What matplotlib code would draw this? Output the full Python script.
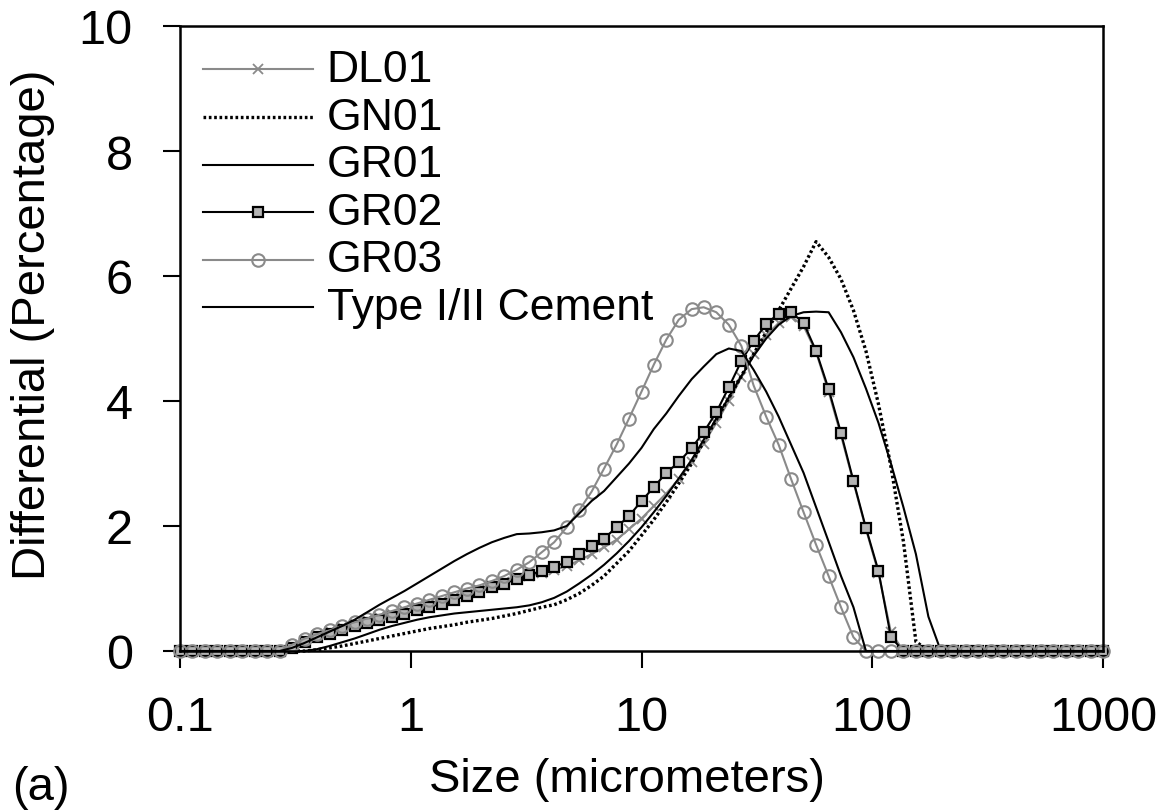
import numpy as np
import matplotlib.pyplot as plt
from matplotlib.ticker import FixedLocator, NullLocator

plt.rcParams['font.family'] = ['Liberation Sans', 'DejaVu Sans']

# particle size channels (micrometers), log spaced from 0.1 to 1000
size_um = [0.1, 0.113, 0.128, 0.145, 0.165, 0.186, 0.211, 0.239, 0.271, 0.306,
           0.347, 0.393, 0.445, 0.504, 0.571, 0.647, 0.732, 0.829, 0.939, 1.064,
           1.205, 1.365, 1.546, 1.751, 1.983, 2.246, 2.543, 2.88, 3.262, 3.695,
           4.184, 4.739, 5.367, 6.078, 6.884, 7.796, 8.829, 10.0, 11.3, 12.8,
           14.5, 16.5, 18.6, 21.1, 23.9, 27.1, 30.6, 34.7, 39.3, 44.5,
           50.4, 57.1, 64.7, 73.2, 82.9, 93.9, 106.4, 120.5, 136.5, 154.6,
           175.1, 198.3, 224.6, 254.3, 288.0, 326.2, 369.5, 418.4, 473.9, 536.7,
           607.8, 688.4, 779.6, 882.9, 1000.0]

dl01 = [0, 0, 0, 0, 0, 0, 0, 0, 0, 0.08,
        0.17, 0.25, 0.32, 0.38, 0.44, 0.5, 0.55, 0.6, 0.65, 0.7,
        0.75, 0.8, 0.86, 0.92, 0.98, 1.04, 1.1, 1.15, 1.2, 1.25,
        1.3, 1.36, 1.45, 1.55, 1.66, 1.78, 1.95, 2.12, 2.32, 2.52,
        2.75, 3.02, 3.32, 3.65, 4.0, 4.38, 4.75, 5.05, 5.25, 5.35,
        5.2, 4.78, 4.15, 3.45, 2.7, 1.95, 1.25, 0.3, 0, 0,
        0, 0, 0, 0, 0, 0, 0, 0, 0, 0,
        0, 0, 0, 0, 0]

gn01 = [0, 0, 0, 0, 0, 0, 0, 0, 0, 0,
        0, 0.02, 0.05, 0.08, 0.12, 0.16, 0.2, 0.24, 0.28, 0.32,
        0.36, 0.39, 0.42, 0.46, 0.49, 0.52, 0.56, 0.6, 0.65, 0.7,
        0.74, 0.82, 0.92, 1.05, 1.2, 1.4, 1.6, 1.85, 2.1, 2.38,
        2.68, 3.0, 3.35, 3.7, 4.05, 4.4, 4.75, 5.1, 5.45, 5.8,
        6.15, 6.55, 6.3, 5.95, 5.45, 4.8, 3.95, 2.95, 1.75, 0.15,
        0, 0, 0, 0, 0, 0, 0, 0, 0, 0,
        0, 0, 0, 0, 0]

gr01 = [0, 0, 0, 0, 0, 0, 0, 0, 0, 0,
        0, 0.03, 0.08, 0.14, 0.2, 0.27, 0.34, 0.4, 0.45, 0.5,
        0.54, 0.57, 0.6, 0.62, 0.64, 0.66, 0.68, 0.7, 0.73, 0.78,
        0.85, 0.95, 1.08, 1.22, 1.38, 1.56, 1.76, 1.98, 2.22, 2.48,
        2.76, 3.06, 3.38, 3.72, 4.06, 4.4, 4.72, 5.0, 5.22, 5.36,
        5.42, 5.43, 5.42, 5.1, 4.7, 4.2, 3.65, 3.0, 2.3, 1.55,
        0.55, 0, 0, 0, 0, 0, 0, 0, 0, 0,
        0, 0, 0, 0, 0]

gr02 = [0, 0, 0, 0, 0, 0, 0, 0, 0, 0.05,
        0.15, 0.22, 0.28, 0.34, 0.4, 0.45, 0.5, 0.55, 0.6, 0.65,
        0.7, 0.76, 0.82, 0.88, 0.95, 1.02, 1.08, 1.15, 1.22, 1.28,
        1.35, 1.42, 1.55, 1.68, 1.8, 1.98, 2.16, 2.4, 2.62, 2.85,
        3.02, 3.25, 3.5, 3.82, 4.22, 4.64, 4.96, 5.23, 5.4, 5.42,
        5.25, 4.8, 4.19, 3.49, 2.72, 1.97, 1.28, 0.22, 0, 0,
        0, 0, 0, 0, 0, 0, 0, 0, 0, 0,
        0, 0, 0, 0, 0]

gr03 = [0, 0, 0, 0, 0, 0, 0, 0, 0, 0.1,
        0.2, 0.27, 0.33, 0.4, 0.46, 0.52, 0.58, 0.64, 0.7, 0.76,
        0.82, 0.88, 0.94, 1.0, 1.05, 1.12, 1.2, 1.3, 1.42, 1.58,
        1.74, 1.98, 2.25, 2.55, 2.92, 3.3, 3.72, 4.15, 4.58, 4.98,
        5.3, 5.47, 5.5, 5.42, 5.22, 4.88, 4.25, 3.75, 3.3, 2.75,
        2.22, 1.7, 1.2, 0.7, 0.22, 0, 0, 0, 0, 0,
        0, 0, 0, 0, 0, 0, 0, 0, 0, 0,
        0, 0, 0, 0, 0]

cement = [0, 0, 0, 0, 0, 0, 0, 0, 0, 0.05,
          0.13, 0.22, 0.31, 0.4, 0.5, 0.62, 0.74, 0.85, 0.96, 1.08,
          1.2, 1.32, 1.44, 1.55, 1.65, 1.74, 1.81, 1.87, 1.88, 1.9,
          1.93, 2.0, 2.2, 2.4, 2.56, 2.78, 3.0, 3.25, 3.55, 3.8,
          4.08, 4.35, 4.55, 4.75, 4.84, 4.8, 4.5, 4.15, 3.75, 3.3,
          2.85, 2.3, 1.75, 1.2, 0.7, 0, 0, 0, 0, 0,
          0, 0, 0, 0, 0, 0, 0, 0, 0, 0,
          0, 0, 0, 0, 0]

gray = '#8a8a8a'
series = [
    ('DL01', dl01, dict(color=gray, lw=1.5, marker='x', ms=7, mew=1.3)),
    ('GN01', gn01, dict(color='black', lw=2.4, ls=(0, (0.8, 0.8)))),
    ('GR01', gr01, dict(color='black', lw=1.5)),
    ('GR02', gr02, dict(color='black', lw=1.5, marker='s', ms=7.5, mfc='#b4b4b4',
                        mec='black', mew=1.6)),
    ('GR03', gr03, dict(color=gray, lw=1.5, marker='o', ms=9, mfc='none',
                        mec=gray, mew=1.5)),
    ('Type I/II Cement', cement, dict(color='black', lw=1.5)),
]

fig = plt.figure(figsize=(11.62, 8.12), dpi=100)
ax = fig.add_axes([180 / 1162, 1 - 652 / 812, 923 / 1162, 625 / 812])

for name, vals, st in series:
    ax.plot(size_um, vals, clip_on=False, **st)

ax.set_xscale('log')
ax.set_xlim(0.1, 1000)
ax.set_ylim(0, 10)
ax.xaxis.set_major_locator(FixedLocator([0.1, 1, 10, 100, 1000]))
ax.xaxis.set_minor_locator(NullLocator())
ax.set_xticklabels(['0.1', '1', '10', '100', '1000'])
ax.set_yticks([0, 2, 4, 6, 8, 10])
ax.tick_params(direction='out', length=12, width=1.5, labelsize=35)
ax.tick_params(axis='x', pad=20)
ax.tick_params(axis='y', pad=22)
for sp in ax.spines.values():
    sp.set_linewidth(1.8)

ax.set_xlabel('Size (micrometers)', fontsize=34)
ax.xaxis.set_label_coords(0.484, -0.17)
ax.set_ylabel('Differential (Percentage)', fontsize=34, va='center')
ax.yaxis.set_label_coords(-0.159, 0.523)
fig.text(12 / 1162, 1 - 788 / 812, '(a)', fontsize=34, ha='left', va='center')

# legend drawn by hand so the rows sit close together
row_y = [0.931, 0.854, 0.778, 0.702, 0.626, 0.550]
for (name, vals, st), yy in zip(series, row_y):
    line_st = {k: v for k, v in st.items() if k not in ('marker', 'ms', 'mfc', 'mec', 'mew')}
    ax.plot([0.025, 0.144], [yy, yy], transform=ax.transAxes, **line_st)
    if 'marker' in st:
        mk = {k: v for k, v in st.items() if k in ('marker', 'ms', 'mfc', 'mec', 'mew', 'color')}
        ax.plot([0.0845], [yy], transform=ax.transAxes, ls='none', **mk)
    ax.text(0.159, yy, name, transform=ax.transAxes, fontsize=32, va='center', ha='left')

fig.savefig('out.png', dpi=100)
